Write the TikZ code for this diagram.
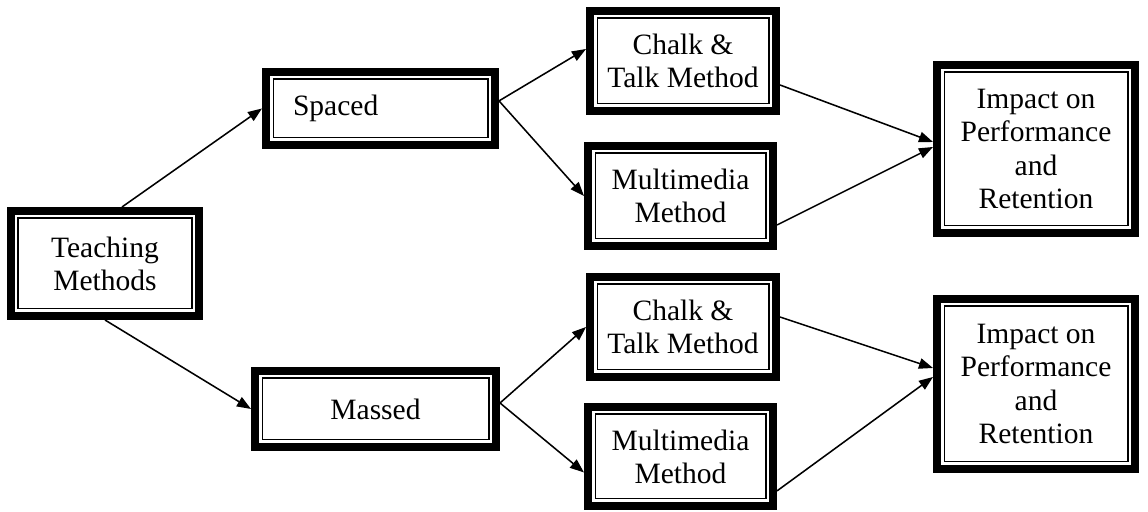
\documentclass[tikz,border=0pt]{standalone}
\usepackage{fontspec}
\setmainfont{Liberation Serif}
\usetikzlibrary{arrows.meta}

\tikzset{
  methbox/.style={draw, line width=0.2cm, outer sep=0.1cm, align=center,
    font=\fontsize{21}{23.5}\selectfont},
  flow/.style={-{Triangle[length=10pt,width=7.5pt]}, line width=1.1pt},
}

\begin{document}
\begin{tikzpicture}
            \useasboundingbox (0,0) rectangle (28.7,12.8);

            \node[methbox, minimum width=4.7cm, minimum height=2.625cm] (Teach) at (2.625,6.2125) {Teaching\\Methods};
            \node[methbox, align=left, text width=4.375cm, inner xsep=0.675cm, minimum height=1.825cm] (Spaced) at (9.5125,10.0875) {Spaced};
            \node[methbox, minimum width=6.025cm, minimum height=1.9cm] (Massed) at (9.3875,2.575) {Massed};

            \node[methbox, minimum width=4.65cm, minimum height=2.5cm] (ChalkA) at (17.075,11.275) {Chalk \&\\Talk Method};
            \node[methbox, minimum width=4.625cm, minimum height=2.5cm] (MediaA) at (17.0125,7.9) {Multimedia\\Method};
            \node[methbox, minimum width=4.65cm, minimum height=2.5cm] (ChalkB) at (17.075,4.625) {Chalk \&\\Talk Method};
            \node[methbox, minimum width=4.625cm, minimum height=2.475cm] (MediaB) at (17.0125,1.3875) {Multimedia\\Method};

            \node[methbox, minimum width=4.95cm, minimum height=4.2cm] (ImpactA) at (25.9,9.075) {Impact on\\Performance\\and\\Retention};
            \node[methbox, minimum width=4.95cm, minimum height=4.25cm] (ImpactB) at (25.9,3.2) {Impact on\\Performance\\and\\Retention};

            % thin inner frame
            \foreach \n in {Teach,Spaced,Massed,ChalkA,MediaA,ChalkB,MediaB,ImpactA,ImpactB}
              \draw[line width=1pt] ([shift={(0.28,-0.28)}]\n.north west) rectangle ([shift={(-0.28,0.28)}]\n.south east);

            \draw[flow] ([xshift=0.425cm]Teach.north) to (Spaced.west);
            \draw[flow] (Teach.south) to (Massed.west);

            \draw[flow] ([yshift=0.19cm]Spaced.east) to ([yshift=0.3cm]ChalkA.west);
            \draw[flow] ([yshift=0.19cm]Spaced.east) to (MediaA.west);
            \draw[flow] ([yshift=0.15cm]Massed.east) to (ChalkB.west);
            \draw[flow] ([yshift=0.15cm]Massed.east) to ([yshift=-0.4cm]MediaB.west);

            \draw[flow] ([yshift=-0.6cm]ChalkA.east) to ([yshift=0.175cm]ImpactA.west);
            \draw[flow] ([yshift=-0.725cm]MediaA.east) to ([yshift=0.05cm]ImpactA.west);
            \draw[flow] ([yshift=0.25cm]ChalkB.east) to ([yshift=0.4cm]ImpactB.west);
            \draw[flow] ([yshift=-0.86cm]MediaB.east) to ([yshift=0.175cm]ImpactB.west);
        \end{tikzpicture}
\end{document}
